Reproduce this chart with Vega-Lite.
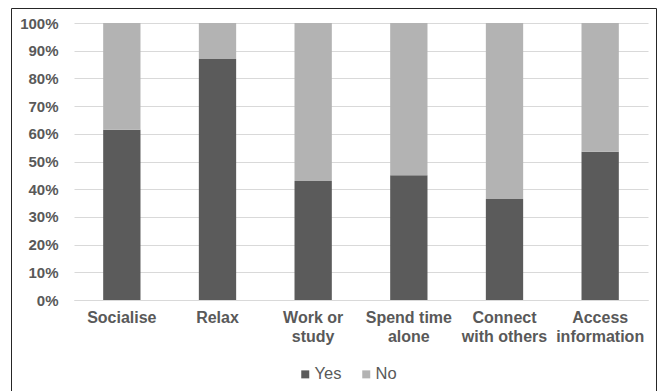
{
  "$schema": "https://vega.github.io/schema/vega-lite/v6.json",
  "width": 645,
  "height": 384,
  "autosize": {"type": "none"},
  "padding": {"left": 11, "top": 8, "right": 9, "bottom": 0},
  "background": "white",
  "config": {
    "view": {"stroke": "#262626", "strokeWidth": 1},
    "font": "Liberation Sans"
  },
  "data": {
    "values": [
      {"activity": "Socialise", "answer": "Yes", "share": 61.5},
      {"activity": "Socialise", "answer": "No", "share": 38.5},
      {"activity": "Relax", "answer": "Yes", "share": 87},
      {"activity": "Relax", "answer": "No", "share": 13},
      {"activity": "Work or study", "answer": "Yes", "share": 43},
      {"activity": "Work or study", "answer": "No", "share": 57},
      {"activity": "Spend time alone", "answer": "Yes", "share": 45},
      {"activity": "Spend time alone", "answer": "No", "share": 55},
      {"activity": "Connect with others", "answer": "Yes", "share": 36.5},
      {"activity": "Connect with others", "answer": "No", "share": 63.5},
      {"activity": "Access information", "answer": "Yes", "share": 53.5},
      {"activity": "Access information", "answer": "No", "share": 46.5}
    ]
  },
  "mark": {"type": "bar"},
  "encoding": {
    "x": {
      "field": "activity",
      "type": "nominal",
      "sort": null,
      "scale": {"range": [63, 637], "paddingInner": 0.61, "paddingOuter": 0.305},
      "axis": {
        "title": null,
        "offset": -92,
        "labelAngle": 0,
        "ticks": false,
        "domainColor": "#d9d9d9",
        "labelPadding": 9,
        "labelFontSize": 16,
        "labelFontWeight": "bold",
        "labelColor": "#595959",
        "labelLineHeight": 19,
        "labelExpr": "datum.value == 'Work or study' ? ['Work or', 'study'] : datum.value == 'Spend time alone' ? ['Spend time', 'alone'] : datum.value == 'Connect with others' ? ['Connect', 'with others'] : datum.value == 'Access information' ? ['Access', 'information'] : datum.value"
      }
    },
    "y": {
      "field": "share",
      "type": "quantitative",
      "stack": "normalize",
      "scale": {"range": [292, 15]},
      "axis": {
        "title": null,
        "offset": -63,
        "domain": false,
        "ticks": false,
        "grid": true,
        "gridColor": "#d9d9d9",
        "values": [0, 0.1, 0.2, 0.3, 0.4, 0.5, 0.6, 0.7, 0.8, 0.9, 1],
        "format": ".0%",
        "labelPadding": 16,
        "labelFontSize": 15,
        "labelFontWeight": "bold",
        "labelColor": "#595959"
      }
    },
    "color": {
      "field": "answer",
      "type": "nominal",
      "sort": ["Yes", "No"],
      "scale": {"domain": ["Yes", "No"], "range": ["#5b5b5b", "#b3b3b3"]},
      "legend": {
        "title": null,
        "orient": "none",
        "legendX": 286,
        "legendY": 358,
        "direction": "horizontal",
        "symbolType": "square",
        "symbolSize": 64,
        "symbolStrokeWidth": 0,
        "labelOffset": 1,
        "columnPadding": 16,
        "labelFontSize": 16.5,
        "labelColor": "#595959"
      }
    }
  }
}
